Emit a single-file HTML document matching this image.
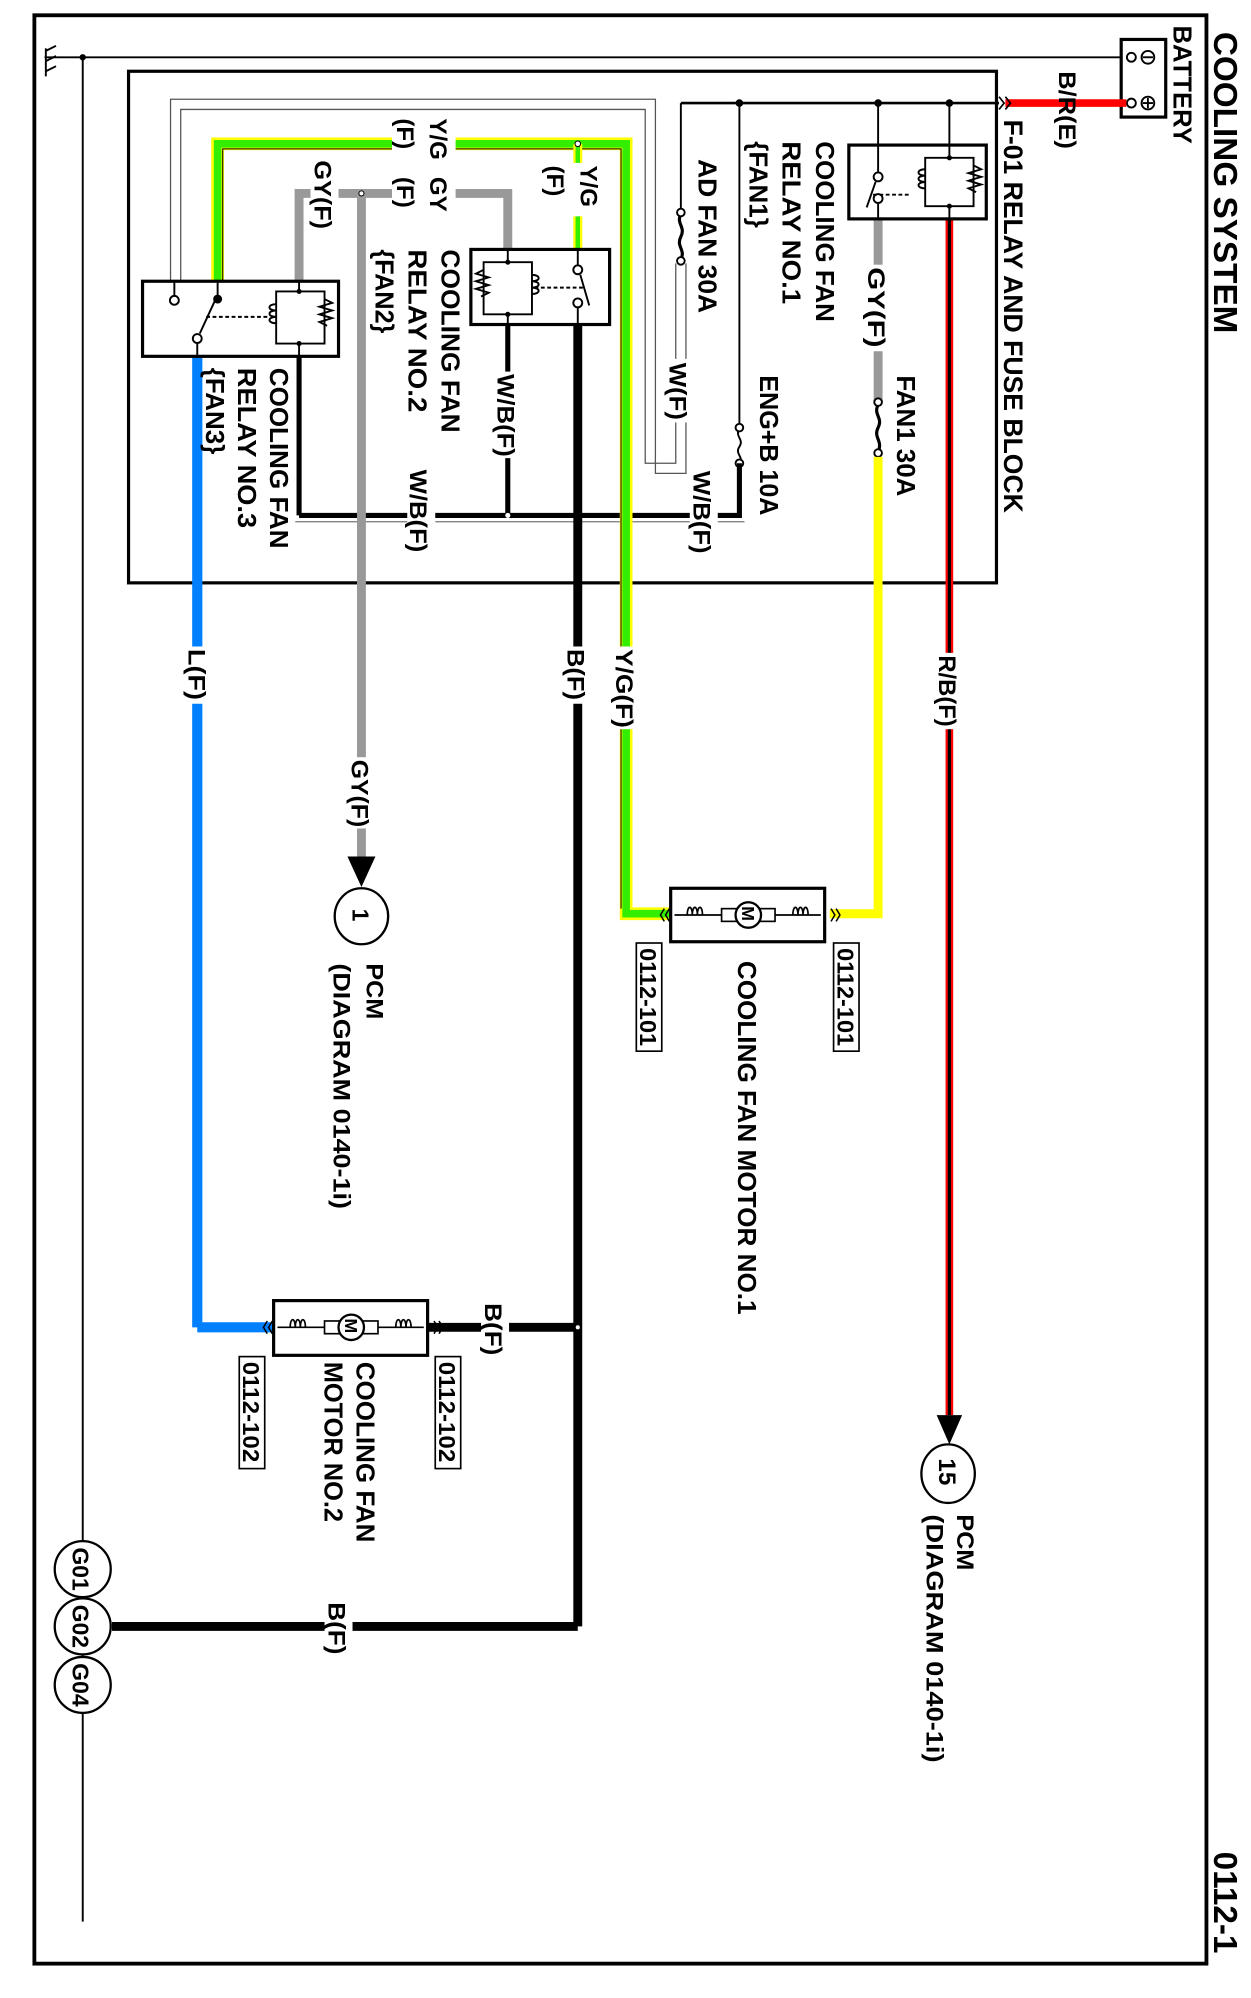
<!DOCTYPE html>
<html><head><meta charset="utf-8"><style>
html,body{margin:0;padding:0;background:#fff;}
svg{display:block;}
text{font-family:"Liberation Sans",Arial,sans-serif;font-weight:bold;fill:#000;}
</style></head><body>
<svg width="1251" height="1998" viewBox="0 0 983 1570" xmlns="http://www.w3.org/2000/svg">
<rect x="27" y="12" width="921" height="1531" fill="none" stroke="#000" stroke-width="3"/>
<!-- title -->
<text transform="translate(954,25) rotate(90)" font-size="26" textLength="237" lengthAdjust="spacingAndGlyphs" font-weight="normal">COOLING SYSTEM</text>
<text transform="translate(954,1455) rotate(90)" font-size="26" textLength="80" lengthAdjust="spacingAndGlyphs" font-weight="normal">0112-1</text>

<!-- ground line and bus -->
<line x1="35" y1="45" x2="882" y2="45" stroke="#000" stroke-width="1.5"/>
<line x1="65" y1="45" x2="65" y2="1510" stroke="#000" stroke-width="1.5"/>
<circle cx="65" cy="45" r="2.5" fill="#000"/>
<g stroke="#000" stroke-width="1.5">
<line x1="36" y1="38" x2="36" y2="60"/>
<line x1="36" y1="40" x2="44" y2="36"/><line x1="36" y1="48" x2="44" y2="44"/><line x1="36" y1="56" x2="44" y2="52"/>
</g>

<!-- battery -->
<rect x="881" y="31" width="35" height="61" fill="#fff" stroke="#000" stroke-width="2.5"/>
<circle cx="889" cy="45" r="3.5" fill="#fff" stroke="#000" stroke-width="1.5"/>
<circle cx="889" cy="81" r="3.5" fill="#fff" stroke="#000" stroke-width="1.5"/>
<circle cx="902" cy="45" r="5" fill="none" stroke="#000" stroke-width="1.5"/>
<line x1="898" y1="45" x2="906" y2="45" stroke="#000" stroke-width="1.5"/>
<circle cx="902" cy="81" r="5" fill="none" stroke="#000" stroke-width="1.5"/>
<line x1="898" y1="81" x2="906" y2="81" stroke="#000" stroke-width="1.5"/><line x1="902" y1="77" x2="902" y2="85" stroke="#000" stroke-width="1.5"/>
<text transform="translate(922,20) rotate(90)" font-size="20" textLength="93" lengthAdjust="spacingAndGlyphs" font-weight="normal">BATTERY</text>
<line x1="790" y1="81" x2="885" y2="81" stroke="#f00" stroke-width="6"/>
<text transform="translate(832,56) rotate(90)" font-size="19" textLength="61" lengthAdjust="spacingAndGlyphs">B/R(E)</text>

<!-- fuse block -->
<rect x="101" y="56" width="682" height="402" fill="none" stroke="#000" stroke-width="2.5"/>
<text transform="translate(789,94) rotate(90)" font-size="21" textLength="309" lengthAdjust="spacingAndGlyphs">F-01 RELAY AND FUSE BLOCK</text>
<path d="M785,76 l4,5 l-4,5 M790,76 l4,5 l-4,5" fill="none" stroke="#000" stroke-width="1.3"/>

<!-- top bus -->
<line x1="535" y1="81" x2="785" y2="81" stroke="#000" stroke-width="2"/>
<circle cx="581" cy="81" r="3" fill="#000"/><circle cx="690" cy="81" r="3" fill="#000"/><circle cx="746" cy="81" r="3" fill="#000"/>
<line x1="690" y1="81" x2="690" y2="125" stroke="#000" stroke-width="1.5"/>
<line x1="746" y1="81" x2="746" y2="125" stroke="#000" stroke-width="1.5"/>
<line x1="581" y1="81" x2="581" y2="334" stroke="#000" stroke-width="1.5"/>
<line x1="535" y1="81" x2="535" y2="165" stroke="#000" stroke-width="1.5"/>

<!-- white W wire outlines -->
<g fill="none" stroke="#555" stroke-width="1">
<path d="M539,207 V372 H515 V78 H134 V222"/>
<path d="M531,207 V364 H507 V86 H142 V222"/>
</g>

<!-- fuses -->
<g fill="#fff" stroke="#000" stroke-width="1.5">
<path d="M535,168 c-4,8 4,10 0,18 c-4,8 4,10 0,18" fill="none" stroke-width="2.5"/>
<circle cx="535" cy="167" r="3"/><circle cx="535" cy="205" r="3"/>
<path d="M581,337 c-4,6 4,8 0,14 c-4,6 4,8 0,13" fill="none"/>
<circle cx="581" cy="336" r="3"/><circle cx="581" cy="364" r="3"/>
</g>
<text transform="translate(549,125) rotate(90)" font-size="20" textLength="121" lengthAdjust="spacingAndGlyphs">AD FAN 30A</text>
<text transform="translate(597,295) rotate(90)" font-size="20" textLength="110" lengthAdjust="spacingAndGlyphs">ENG+B 10A</text>
<rect x="524" y="282" width="22" height="50" fill="#fff"/>
<text transform="translate(526,285) rotate(90)" font-size="19" textLength="45" lengthAdjust="spacingAndGlyphs">W(F)</text>

<!-- W/B lines -->
<path d="M581,364 V405 H235" fill="none" stroke="#000" stroke-width="4"/>
<line x1="232" y1="410" x2="585" y2="410" stroke="#777" stroke-width="1"/>
<line x1="399" y1="255" x2="399" y2="405" stroke="#000" stroke-width="4"/>
<line x1="235" y1="280" x2="235" y2="405" stroke="#000" stroke-width="4"/>
<circle cx="399" cy="405" r="2" fill="#fff"/>
<rect x="542" y="370" width="22" height="66" fill="#fff"/>
<text transform="translate(545,370) rotate(90)" font-size="19" textLength="65" lengthAdjust="spacingAndGlyphs">W/B(F)</text>
<rect x="320" y="369" width="22" height="66" fill="#fff"/>
<text transform="translate(322,369) rotate(90)" font-size="19" textLength="65" lengthAdjust="spacingAndGlyphs">W/B(F)</text>
<rect x="389" y="292" width="22" height="68" fill="#fff"/>
<text transform="translate(391,294) rotate(90)" font-size="19" textLength="65" lengthAdjust="spacingAndGlyphs">W/B(F)</text>

<!-- relay 1 -->
<line x1="746" y1="172" x2="746" y2="1112" stroke="#f00" stroke-width="6"/>
<line x1="746" y1="172" x2="746" y2="1112" stroke="#000" stroke-width="2.5"/>
<polygon points="736,1112 756,1112 746,1135" fill="#000"/>
<line x1="690" y1="172" x2="690" y2="315" stroke="#999" stroke-width="7"/>
<path d="M690,318 c-4,8 4,10 0,18 c-4,8 4,10 0,19" fill="none" stroke="#000" stroke-width="2.5"/>
<circle cx="690" cy="316" r="3" fill="#fff" stroke="#000" stroke-width="1.5"/><circle cx="690" cy="356" r="3" fill="#fff" stroke="#000" stroke-width="1.5"/>
<path d="M690,359 V718 H652" fill="none" stroke="#ff0" stroke-width="7"/>
<rect x="679" y="208" width="22" height="68" fill="#fff"/>
<text transform="translate(682,210) rotate(90)" font-size="19" textLength="63" lengthAdjust="spacingAndGlyphs">GY(F)</text>
<text transform="translate(705,295) rotate(90)" font-size="20" textLength="95" lengthAdjust="spacingAndGlyphs">FAN1 30A</text>
<rect x="667" y="114" width="108" height="58" fill="#fff" stroke="#000" stroke-width="2.5"/>
<g fill="none" stroke="#000" stroke-width="1.5">
<line x1="690" y1="114" x2="690" y2="135"/><line x1="690" y1="160" x2="690" y2="172"/>
<circle cx="690" cy="139" r="3.5" fill="#fff"/><circle cx="690" cy="156" r="3.5" fill="#fff"/>
<line x1="688" y1="143" x2="681" y2="163"/>
<line x1="686" y1="153" x2="715" y2="153" stroke-dasharray="3,2"/>
<line x1="746" y1="114" x2="746" y2="124"/><line x1="746" y1="162" x2="746" y2="172"/>
<path d="M727,124 H765 V162 H727 Z"/>
<path d="M727,133 c-7,0 -7,5 0,5 c-7,0 -7,5 0,5 c-7,0 -7,5 0,5"/>
<path d="M765,130 l6,3 l-10,3 l10,3 l-10,3 l10,3 l-10,3 l6,3"/>
</g>
<circle cx="746" cy="124" r="2" fill="#000"/><circle cx="746" cy="162" r="2" fill="#000"/>
<text transform="translate(641,111) rotate(90)" font-size="20" textLength="142" lengthAdjust="spacingAndGlyphs">COOLING FAN</text>
<text transform="translate(615,111) rotate(90)" font-size="20" textLength="128" lengthAdjust="spacingAndGlyphs">RELAY NO.1</text>
<text transform="translate(589,111) rotate(90)" font-size="20" textLength="68" lengthAdjust="spacingAndGlyphs">{FAN1}</text>
<rect x="736" y="513" width="22" height="60" fill="#fff"/>
<text transform="translate(738,515) rotate(90)" font-size="19" textLength="56" lengthAdjust="spacingAndGlyphs">R/B(F)</text>

<!-- Y/G wire -->
<path d="M171,222 V113 H492 V718 H527" fill="none" stroke="#ff0" stroke-width="10"/>
<path d="M171,222 V113 H492 V718 H527" fill="none" stroke="#33ee00" stroke-width="6"/>
<path d="M175,222 V117 H488 V714" fill="none" stroke="#000" stroke-width="0.8"/>
<line x1="454" y1="113" x2="454" y2="196" stroke="#ff0" stroke-width="7"/>
<line x1="454" y1="113" x2="454" y2="196" stroke="#33ee00" stroke-width="3.5"/>
<circle cx="454" cy="113" r="2.2" fill="#fff" stroke="#000" stroke-width="0.8"/>
<rect x="427" y="128" width="46" height="42" fill="#fff"/>
<text transform="translate(456,130) rotate(90)" font-size="19">Y/G</text>
<text transform="translate(430,130) rotate(90)" font-size="19">(F)</text>
<rect x="308" y="92" width="50" height="42" fill="#fff"/>
<text transform="translate(338,93) rotate(90)" font-size="19">Y/G</text>
<text transform="translate(312,93) rotate(90)" font-size="19">(F)</text>
<rect x="481" y="508" width="22" height="65" fill="#fff"/>
<text transform="translate(484,510) rotate(90)" font-size="19" textLength="62" lengthAdjust="spacingAndGlyphs">Y/G(F)</text>

<!-- Gray wires -->
<path d="M235,222 V152 H399 V196" fill="none" stroke="#999" stroke-width="7"/>
<line x1="284" y1="152" x2="284" y2="673" stroke="#999" stroke-width="7"/>
<circle cx="284" cy="152" r="2" fill="#fff" stroke="#000" stroke-width="0.8"/>
<rect x="308" y="137" width="50" height="32" fill="#fff"/>
<text transform="translate(338,139) rotate(90)" font-size="19">GY</text>
<text transform="translate(312,139) rotate(90)" font-size="19">(F)</text>
<rect x="244" y="124" width="22" height="58" fill="#fff"/>
<text transform="translate(247,126) rotate(90)" font-size="19" textLength="54" lengthAdjust="spacingAndGlyphs">GY(F)</text>
<polygon points="273,673 295,673 284,697" fill="#000"/>
<rect x="273" y="595" width="22" height="56" fill="#fff"/>
<text transform="translate(276,597) rotate(90)" font-size="19" textLength="53" lengthAdjust="spacingAndGlyphs">GY(F)</text>
<ellipse cx="284" cy="720" rx="21" ry="22" fill="#fff" stroke="#000" stroke-width="1.8"/>
<text transform="translate(277,714) rotate(90)" font-size="18">1</text>
<text transform="translate(288,757) rotate(90)" font-size="19" textLength="44" lengthAdjust="spacingAndGlyphs">PCM</text>
<text transform="translate(262,757) rotate(90)" font-size="19" textLength="193" lengthAdjust="spacingAndGlyphs">(DIAGRAM  0140-1i)</text>

<!-- relay 2 -->
<line x1="454" y1="255" x2="454" y2="1278" stroke="#000" stroke-width="7"/>
<path d="M454,1278 H88" fill="none" stroke="#000" stroke-width="7"/>
<rect x="370" y="196" width="109" height="59" fill="#fff" stroke="#000" stroke-width="2.5"/>
<g fill="none" stroke="#000" stroke-width="1.5">
<line x1="454" y1="196" x2="454" y2="208"/><line x1="454" y1="242" x2="454" y2="255"/>
<circle cx="454" cy="212" r="3.5" fill="#fff"/><circle cx="454" cy="238" r="3.5" fill="#fff"/>
<line x1="456" y1="216" x2="463" y2="240"/>
<line x1="420" y1="226" x2="458" y2="226" stroke-dasharray="3,2"/>
<line x1="399" y1="196" x2="399" y2="206"/><line x1="399" y1="247" x2="399" y2="255"/>
<path d="M380,206 H418 V247 H380 Z"/>
<path d="M418,216 c7,0 7,5 0,5 c7,0 7,5 0,5 c7,0 7,5 0,5"/>
<path d="M380,212 l-6,3 l10,3 l-10,3 l10,3 l-10,3 l10,3 l-6,3"/>
</g>
<circle cx="399" cy="206" r="2" fill="#000"/><circle cx="399" cy="247" r="2" fill="#000"/>
<text transform="translate(347,196) rotate(90)" font-size="20" textLength="144" lengthAdjust="spacingAndGlyphs">COOLING FAN</text>
<text transform="translate(321,196) rotate(90)" font-size="20" textLength="128" lengthAdjust="spacingAndGlyphs">RELAY NO.2</text>
<text transform="translate(295,196) rotate(90)" font-size="20" textLength="66" lengthAdjust="spacingAndGlyphs">{FAN2}</text>
<rect x="443" y="508" width="22" height="45" fill="#fff"/>
<text transform="translate(446,510) rotate(90)" font-size="19" textLength="40" lengthAdjust="spacingAndGlyphs">B(F)</text>

<!-- relay 3 -->
<line x1="155" y1="280" x2="155" y2="1043" stroke="#0080ff" stroke-width="8"/>
<line x1="155" y1="1043" x2="215" y2="1043" stroke="#0080ff" stroke-width="8"/>
<rect x="145" y="508" width="22" height="45" fill="#fff"/>
<text transform="translate(148,510) rotate(90)" font-size="19" textLength="40" lengthAdjust="spacingAndGlyphs">L(F)</text>
<rect x="112" y="221" width="154" height="59" fill="#fff" stroke="#000" stroke-width="2.5"/>
<g fill="none" stroke="#000" stroke-width="1.5">
<line x1="137" y1="221" x2="137" y2="232"/>
<circle cx="137" cy="236" r="3.5" fill="#fff"/>
<line x1="171" y1="221" x2="171" y2="232"/>
<line x1="155" y1="262" x2="155" y2="280"/>
<circle cx="155" cy="266" r="3.5" fill="#fff"/>
<line x1="157" y1="262" x2="169" y2="236"/>
<line x1="162" y1="249" x2="210" y2="249" stroke-dasharray="3,2"/>
<line x1="235" y1="221" x2="235" y2="229"/><line x1="235" y1="270" x2="235" y2="280"/>
<path d="M217,229 H255 V270 H217 Z"/>
<path d="M217,239 c-7,0 -7,5 0,5 c-7,0 -7,5 0,5 c-7,0 -7,5 0,5"/>
<path d="M255,235 l6,3 l-10,3 l10,3 l-10,3 l10,3 l-10,3 l6,3"/>
</g>
<circle cx="171" cy="235" r="3.5" fill="#000"/>
<circle cx="235" cy="229" r="2" fill="#000"/><circle cx="235" cy="270" r="2" fill="#000"/>
<text transform="translate(212,289) rotate(90)" font-size="20" textLength="142" lengthAdjust="spacingAndGlyphs">COOLING FAN</text>
<text transform="translate(187,289) rotate(90)" font-size="20" textLength="126" lengthAdjust="spacingAndGlyphs">RELAY NO.3</text>
<text transform="translate(162,289) rotate(90)" font-size="20" textLength="68" lengthAdjust="spacingAndGlyphs">{FAN3}</text>

<!-- motor 1 -->
<rect x="527" y="698" width="121" height="42" fill="#fff" stroke="#000" stroke-width="2.5"/>
<g fill="none" stroke="#000" stroke-width="1.3">
<line x1="530" y1="719" x2="645" y2="719"/>
<path d="M540,719 c0,-8 4,-8 4,0 c0,-8 4,-8 4,0 c0,-8 4,-8 4,0"/>
<path d="M623,719 c0,-8 4,-8 4,0 c0,-8 4,-8 4,0 c0,-8 4,-8 4,0"/>
<rect x="567" y="714" width="42" height="10" fill="#fff"/>
<circle cx="588" cy="719" r="10" fill="#fff" stroke-width="1.8"/>
<path d="M522,714 l-3,5 l3,5 M526,714 l-3,5 l3,5 M653,714 l3,5 l-3,5 M657,714 l3,5 l-3,5" stroke-width="1.2"/>
</g>
<text transform="translate(583,712) rotate(90)" font-size="14">M</text>
<rect x="655" y="741" width="20" height="85" fill="#fff" stroke="#000" stroke-width="1.3"/>
<text transform="translate(658,745) rotate(90)" font-size="18" textLength="77" lengthAdjust="spacingAndGlyphs">0112-101</text>
<rect x="500" y="741" width="20" height="85" fill="#fff" stroke="#000" stroke-width="1.3"/>
<text transform="translate(503,745) rotate(90)" font-size="18" textLength="77" lengthAdjust="spacingAndGlyphs">0112-101</text>
<text transform="translate(580,755) rotate(90)" font-size="20" textLength="278" lengthAdjust="spacingAndGlyphs">COOLING FAN MOTOR NO.1</text>

<!-- motor 2 -->
<line x1="336" y1="1043" x2="454" y2="1043" stroke="#000" stroke-width="7"/>
<circle cx="454" cy="1043" r="2" fill="#fff" stroke="#000" stroke-width="0.8"/>
<rect x="378" y="1023" width="22" height="45" fill="#fff"/>
<text transform="translate(381,1024) rotate(90)" font-size="19" textLength="41" lengthAdjust="spacingAndGlyphs">B(F)</text>
<rect x="215" y="1022" width="121" height="43" fill="#fff" stroke="#000" stroke-width="2.5"/>
<g fill="none" stroke="#000" stroke-width="1.3">
<line x1="218" y1="1043" x2="333" y2="1043"/>
<path d="M228,1043 c0,-8 4,-8 4,0 c0,-8 4,-8 4,0 c0,-8 4,-8 4,0"/>
<path d="M311,1043 c0,-8 4,-8 4,0 c0,-8 4,-8 4,0 c0,-8 4,-8 4,0"/>
<rect x="255" y="1038" width="42" height="10" fill="#fff"/>
<circle cx="276" cy="1043" r="10" fill="#fff" stroke-width="1.8"/>
<path d="M210,1038 l-3,5 l3,5 M214,1038 l-3,5 l3,5 M341,1038 l3,5 l-3,5 M345,1038 l3,5 l-3,5" stroke-width="1.2"/>
</g>
<text transform="translate(271,1036) rotate(90)" font-size="14">M</text>
<rect x="342" y="1066" width="20" height="88" fill="#fff" stroke="#000" stroke-width="1.3"/>
<text transform="translate(345,1070) rotate(90)" font-size="18" textLength="79" lengthAdjust="spacingAndGlyphs">0112-102</text>
<rect x="188" y="1066" width="20" height="88" fill="#fff" stroke="#000" stroke-width="1.3"/>
<text transform="translate(191,1070) rotate(90)" font-size="18" textLength="79" lengthAdjust="spacingAndGlyphs">0112-102</text>
<text transform="translate(280,1070) rotate(90)" font-size="20" textLength="142" lengthAdjust="spacingAndGlyphs">COOLING FAN</text>
<text transform="translate(255,1070) rotate(90)" font-size="20" textLength="126" lengthAdjust="spacingAndGlyphs">MOTOR NO.2</text>

<!-- PCM 15 -->
<ellipse cx="745" cy="1158" rx="21" ry="23" fill="#fff" stroke="#000" stroke-width="1.8"/>
<text transform="translate(738,1146) rotate(90)" font-size="19">15</text>
<text transform="translate(752,1190) rotate(90)" font-size="19" textLength="44" lengthAdjust="spacingAndGlyphs">PCM</text>
<text transform="translate(728,1190) rotate(90)" font-size="19" textLength="195" lengthAdjust="spacingAndGlyphs">(DIAGRAM 0140-1i)</text>

<!-- ground bottom B(F) -->
<rect x="255" y="1257" width="22" height="45" fill="#fff"/>
<text transform="translate(258,1259) rotate(90)" font-size="19" textLength="41" lengthAdjust="spacingAndGlyphs">B(F)</text>
<g fill="#fff" stroke="#000" stroke-width="1.8">
<ellipse cx="65" cy="1233" rx="22" ry="22"/>
<ellipse cx="65" cy="1278" rx="22" ry="22"/>
<ellipse cx="65" cy="1324" rx="22" ry="22"/>
</g>
<text transform="translate(57,1216) rotate(90)" font-size="18" textLength="34" lengthAdjust="spacingAndGlyphs">G01</text>
<text transform="translate(57,1261) rotate(90)" font-size="18" textLength="34" lengthAdjust="spacingAndGlyphs">G02</text>
<text transform="translate(57,1307) rotate(90)" font-size="18" textLength="34" lengthAdjust="spacingAndGlyphs">G04</text>
</svg>
</body></html>
